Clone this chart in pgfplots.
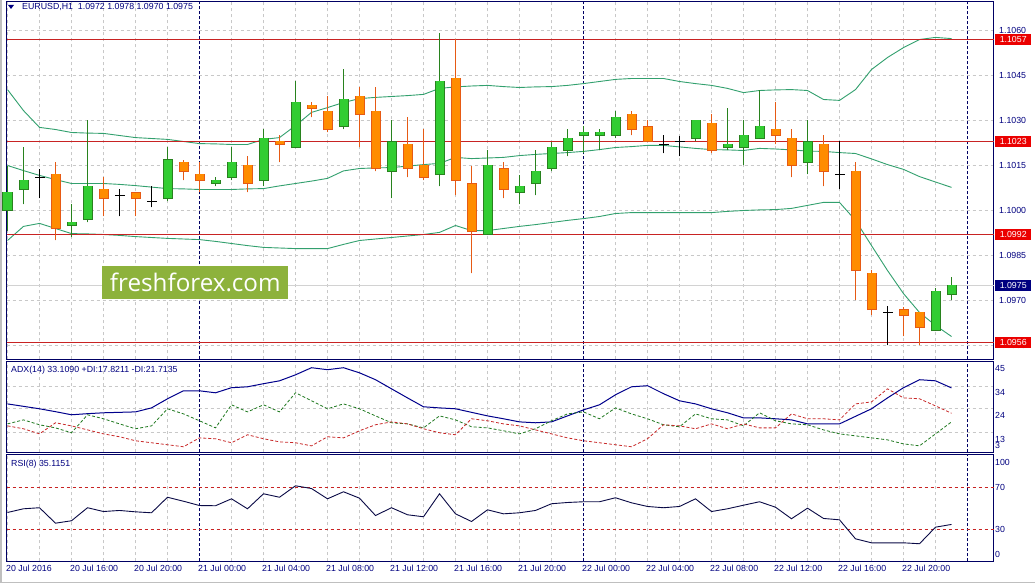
\documentclass[border=0pt]{standalone}
\usepackage{pgfplots}
\pgfplotsset{compat=1.18}
\usepackage{pgfplotstable}
\usepackage{fontspec}
\setmainfont{Liberation Sans}
\newfontfamily\wm{Open Sans}
\newcommand\lab{\fontsize{8.8bp}{10bp}\selectfont}
\definecolor{navy}{RGB}{0,0,128}
\definecolor{frame}{RGB}{0,0,100}
\definecolor{gfill}{RGB}{50,205,50}
\definecolor{gout}{RGB}{40,130,30}
\definecolor{ofill}{RGB}{255,140,0}
\definecolor{oout}{RGB}{230,90,20}
\definecolor{band}{RGB}{50,160,110}
\definecolor{lvl}{RGB}{200,35,35}
\definecolor{boxred}{RGB}{235,0,0}
\definecolor{gridc}{RGB}{200,200,200}
\definecolor{adxc}{RGB}{0,0,140}
\definecolor{pdi}{RGB}{30,120,30}
\definecolor{mdi}{RGB}{200,40,40}
\definecolor{rsic}{RGB}{10,10,70}
\definecolor{wmgreen}{RGB}{141,178,60}

\pgfplotstableread{
i O H L C
0 1.1000 1.1015 1.0993 1.1006
1 1.1007 1.1021 1.1002 1.1010
4 1.0995 1.1002 1.0991 1.0996
5 1.0997 1.1030 1.0996 1.1008
10 1.1004 1.1021 1.1003 1.1017
13 1.1009 1.1011 1.1008 1.1010
14 1.1011 1.1021 1.1010 1.1016
16 1.1010 1.1027 1.1008 1.1024
18 1.1021 1.1043 1.1021 1.1036
21 1.1028 1.1047 1.1027 1.1037
24 1.1013 1.1030 1.1004 1.1023
27 1.1012 1.1059 1.1008 1.1043
30 1.0992 1.1020 1.0992 1.1015
32 1.1006 1.1012 1.1002 1.1008
33 1.1009 1.1020 1.1005 1.1013
34 1.1014 1.1023 1.1013 1.1021
35 1.1020 1.1027 1.1018 1.1024
36 1.1025 1.1028 1.1019 1.1026
37 1.1025 1.1027 1.1020 1.1026
38 1.1025 1.1033 1.1024 1.1031
43 1.1024 1.1030 1.1023 1.1030
45 1.1021 1.1034 1.1020 1.1022
46 1.1021 1.1030 1.1015 1.1025
47 1.1024 1.1040 1.1024 1.1028
50 1.1016 1.1030 1.1012 1.1023
58 1.0960 1.0974 1.0960 1.0973
59 1.0972 1.0978 1.0970 1.0975
}\bull

\pgfplotstableread{
i O H L C
3 1.1012 1.1016 1.0990 1.0994
6 1.1007 1.1011 1.0998 1.1004
8 1.1006 1.1006 1.0998 1.1004
11 1.1016 1.1017 1.1010 1.1013
12 1.1012 1.1016 1.1006 1.1010
15 1.1015 1.1018 1.1006 1.1009
17 1.1023 1.1025 1.1016 1.1022
19 1.1035 1.1036 1.1031 1.1034
20 1.1033 1.1038 1.1026 1.1027
22 1.1038 1.1041 1.1021 1.1032
23 1.1033 1.1041 1.1013 1.1014
25 1.1022 1.1031 1.1011 1.1014
26 1.1015 1.1027 1.1010 1.1011
28 1.1044 1.1057 1.1005 1.1010
29 1.1009 1.1015 1.0979 1.0993
31 1.1014 1.1016 1.1004 1.1007
39 1.1032 1.1033 1.1025 1.1027
40 1.1028 1.1030 1.1023 1.1023
44 1.1029 1.1032 1.1019 1.1020
48 1.1027 1.1036 1.1022 1.1025
49 1.1024 1.1027 1.1011 1.1015
51 1.1022 1.1025 1.1008 1.1013
53 1.1013 1.1016 1.0970 1.0980
54 1.0979 1.0980 1.0965 1.0967
56 1.0967 1.0968 1.0958 1.0965
57 1.0966 1.0966 1.0955 1.0961
}\bear

\pgfplotstableread{
i O H L C
2 1.1011 1.1014 1.1004 1.1011
7 1.1005 1.1007 1.0998 1.1005
9 1.1003 1.1008 1.1001 1.1003
41 1.1022 1.1025 1.1019 1.1022
42 1.1023 1.1025 1.1018 1.1023
52 1.1012 1.1023 1.1007 1.1012
55 1.0966 1.0968 1.0955 1.0966
}\doji

\pgfplotstableread{
i up mid lo
0 1.10403 1.10150 1.09900
1 1.10333 1.10133 1.09947
2 1.10277 1.10117 1.09957
3 1.10270 1.10103 1.09940
4 1.10260 1.10090 1.09923
5 1.10258 1.10090 1.09922
6 1.10257 1.10090 1.09920
7 1.10250 1.10087 1.09917
8 1.10243 1.10083 1.09913
9 1.10240 1.10078 1.09910
10 1.10237 1.10073 1.09907
11 1.10230 1.10072 1.09905
12 1.10223 1.10070 1.09903
13 1.10222 1.10070 1.09897
14 1.10220 1.10070 1.09890
15 1.10220 1.10072 1.09883
16 1.10237 1.10073 1.09877
17 1.10243 1.10082 1.09875
18 1.10283 1.10090 1.09873
19 1.10327 1.10098 1.09873
20 1.10343 1.10107 1.09873
21 1.10360 1.10132 1.09887
22 1.10373 1.10140 1.09900
23 1.10377 1.10142 1.09905
24 1.10380 1.10143 1.09910
25 1.10383 1.10148 1.09915
26 1.10387 1.10153 1.09920
27 1.10407 1.10157 1.09927
28 1.10412 1.10177 1.09950
29 1.10415 1.10173 1.09933
30 1.10417 1.10175 1.09933
31 1.10413 1.10177 1.09940
32 1.10410 1.10183 1.09947
33 1.10412 1.10187 1.09953
34 1.10413 1.10190 1.09960
35 1.10417 1.10193 1.09967
36 1.10423 1.10197 1.09973
37 1.10430 1.10203 1.09980
38 1.10437 1.10210 1.09990
39 1.10440 1.10213 1.09993
40 1.10440 1.10217 1.09993
41 1.10440 1.10217 1.09993
42 1.10430 1.10212 1.09993
43 1.10423 1.10207 1.09993
44 1.10417 1.10203 1.09993
45 1.10407 1.10202 1.09997
46 1.10393 1.10200 1.10000
47 1.10400 1.10207 1.10002
48 1.10402 1.10205 1.10003
49 1.10403 1.10202 1.10007
50 1.10400 1.10198 1.10017
51 1.10370 1.10197 1.10027
52 1.10367 1.10193 1.10027
53 1.10403 1.10190 1.09967
54 1.10470 1.10172 1.09883
55 1.10510 1.10153 1.09800
56 1.10543 1.10137 1.09723
57 1.10570 1.10113 1.09660
58 1.10577 1.10095 1.09617
59 1.10573 1.10077 1.09580
}\bands

\pgfplotstableread{
i adx pdi mdi
0 25.9 16.9 16.0
1 24.8 18.7 14.7
2 23.7 16.5 12.4
3 22.4 15.1 17.4
4 21.0 12.9 16.0
5 21.5 21.0 14.2
6 21.9 19.2 12.4
7 22.1 16.9 11.1
8 22.3 14.7 9.3
9 24.1 16.0 8.4
10 28.2 23.7 7.5
11 31.8 21.4 6.6
12 31.8 18.3 10.6
13 30.9 15.1 10.2
14 33.2 25.5 8.4
15 33.6 22.3 12.0
16 35.0 25.5 10.2
17 36.3 22.3 8.8
18 39.0 30.9 8.4
19 42.2 27.3 7.0
20 41.3 23.7 11.1
21 42.2 25.9 10.6
22 39.9 23.7 13.8
23 36.8 20.5 16.5
24 32.7 17.4 17.8
25 28.6 16.9 16.9
26 24.6 15.1 14.7
27 24.1 20.5 12.9
28 23.7 18.7 12.0
29 22.1 15.6 19.2
30 20.5 15.1 18.3
31 19.2 13.8 16.9
32 17.8 12.4 16.0
33 17.4 14.7 14.2
34 17.8 18.3 12.4
35 20.5 21.4 10.6
36 23.2 22.3 9.3
37 25.5 19.2 8.4
38 30.0 24.1 7.5
39 33.6 21.4 6.6
40 34.1 19.2 10.2
41 30.5 16.5 16.5
42 27.3 15.6 16.0
43 25.9 21.4 14.7
44 23.7 19.2 16.9
45 21.9 18.7 14.7
46 19.6 16.0 16.9
47 19.6 21.9 15.1
48 19.2 18.3 15.1
49 18.7 16.9 21.4
50 16.9 16.5 19.2
51 16.9 14.2 19.2
52 16.9 12.4 18.7
53 20.3 11.5 25.9
54 23.7 10.6 26.8
55 28.6 9.7 32.7
56 33.2 7.9 28.6
57 36.8 7.0 28.2
58 36.3 12.4 25.0
59 33.1 17.8 21.7
}\adx

\pgfplotstableread{
i r
0 46.5
1 50.0
2 51.0
3 36.3
4 38.6
5 51.0
6 47.4
7 48.4
8 47.1
9 46.2
10 61.0
11 57.2
12 53.1
13 52.9
14 59.5
15 50.0
16 64.3
17 61.0
18 71.9
19 69.3
20 59.5
21 66.2
22 60.1
23 43.6
24 51.0
25 44.3
26 42.4
27 64.3
28 45.2
29 37.9
30 49.0
31 45.2
32 46.2
33 48.4
34 54.8
35 56.0
36 56.7
37 56.7
38 60.5
39 55.7
40 52.2
41 51.0
42 52.2
43 59.5
44 47.4
45 50.0
46 53.4
47 56.7
48 51.5
49 40.5
50 50.6
51 40.8
52 39.5
53 21.4
54 17.6
55 17.6
56 17.6
57 16.7
58 32.5
59 35.1
}\rsi

\pgfplotsset{
  panel/.style={
    scale only axis, width=987bp, anchor=south west,
    xmin=-0.0625, xmax=61.625, clip=false,
    axis line style={draw=frame, line width=1bp},
    tick style={draw=none},
    xtick={0,2,4,6,8,10,14,16,18,20,22,24,26,28,30,32,34,38,40,42,44,46,48,50,52,54,56,58},
    xticklabels={},
    yticklabel pos=right,
    scaled y ticks=false,
    yticklabel style={font=\lab, text=navy, anchor=west, inner sep=0pt},
    /pgf/number format/assume math mode=true,
    major grid style={draw=gridc, dash pattern=on 3bp off 3bp, line width=0.8bp},
    extra x ticks={12,36,60}, extra x tick labels={},
    extra x tick style={grid=major, major grid style={draw=frame, dash pattern=on 3bp off 2bp, line width=0.8bp}},
  },
  lvlline/.style={color=lvl, solid, mark=none, line width=1bp},
  wick/.style={forget plot, only marks, mark=*, mark size=0pt, mark options={draw=none, fill=none}, error bars/.cd, y dir=plus, y explicit, error mark=none, error bar style={draw=#1, line width=1bp}},
  body/.style 2 args={forget plot, only marks, mark=*, mark size=0pt, mark options={draw=none, fill=none}, error bars/.cd, y dir=plus, y explicit, error mark=none, error bar style={draw=#1, line width=#2}},
}
\tikzset{pbox/.style={anchor=west, xshift=1.5bp, minimum width=36bp, minimum height=10.5bp, inner sep=0pt, font=\lab, text=white, fill=#1}}

\begin{document}
\begin{tikzpicture}
\useasboundingbox (0,0) rectangle (1035bp,583bp);
\fill[white] (0,0) rectangle (1035bp,583bp);

% ---------------- main price panel ----------------
\begin{axis}[panel, at={(6.5bp,223.5bp)}, height=358bp,
  ymin=1.0950333, ymax=1.1069667,
  ytick={1.0955,1.0970,1.0985,1.1000,1.1015,1.1030,1.1045,1.1060},
  yticklabel style={xshift=5.5bp, /pgf/number format/fixed, /pgf/number format/fixed zerofill, /pgf/number format/precision=4},
  grid=major]
\addplot[color=gray!35, mark=none, line width=0.8bp] coordinates {(-0.0625,1.0975) (61.625,1.0975)};
\addplot[color=band, mark=none, line width=0.9bp] table[x=i, y=up] {\bands};
\addplot[color=band, mark=none, line width=0.9bp] table[x=i, y=mid] {\bands};
\addplot[color=band, mark=none, line width=0.9bp] table[x=i, y=lo] {\bands};
\addplot[lvlline] coordinates {(-0.0625,1.1057) (61.625,1.1057)};
\addplot[lvlline] coordinates {(-0.0625,1.1023) (61.625,1.1023)};
\addplot[lvlline] coordinates {(-0.0625,1.0992) (61.625,1.0992)};
\addplot[lvlline] coordinates {(-0.0625,1.0956) (61.625,1.0956)};
% bull candles
\addplot[wick=gout] table[x=i, y=L, y error plus expr={\thisrow{H}-\thisrow{L}}] {\bull};
\addplot[body={gout}{10bp}] table[x=i, y expr={\thisrow{O}-0.00002}, y error plus expr={\thisrow{C}-\thisrow{O}+0.00004}] {\bull};
\addplot[body={gfill}{8bp}] table[x=i, y=O, y error plus expr={\thisrow{C}-\thisrow{O}}] {\bull};
% bear candles
\addplot[wick=oout] table[x=i, y=L, y error plus expr={\thisrow{H}-\thisrow{L}}] {\bear};
\addplot[body={oout}{10bp}] table[x=i, y expr={\thisrow{C}-0.00002}, y error plus expr={\thisrow{O}-\thisrow{C}+0.00004}] {\bear};
\addplot[body={ofill}{8bp}] table[x=i, y=C, y error plus expr={\thisrow{O}-\thisrow{C}}] {\bear};
% doji
\addplot[wick=black] table[x=i, y=L, y error plus expr={\thisrow{H}-\thisrow{L}}] {\doji};
\addplot[only marks, mark=-, mark size=5bp, black, mark options={line width=1bp}] table[x=i, y=O] {\doji};
% price boxes
\node[pbox=boxred] at (axis cs:61.625,1.1057) {1.1057};
\node[pbox=boxred] at (axis cs:61.625,1.1023) {1.1023};
\node[pbox=boxred] at (axis cs:61.625,1.0992) {1.0992};
\node[pbox=boxred] at (axis cs:61.625,1.0956) {1.0956};
\node[pbox=navy] at (axis cs:61.625,1.0975) {1.0975};
\end{axis}

% ---------------- ADX panel ----------------
\begin{axis}[panel, at={(6.5bp,130.5bp)}, height=91bp,
  ymin=4.01, ymax=45, ytick={13,24,34,45},
  yticklabel style={xshift=1.5bp, yshift=-7bp},
  grid=major]
\addplot[color=adxc, mark=none, line width=1bp] table[x=i, y=adx] {\adx};
\addplot[color=pdi, mark=none, line width=0.8bp, dash pattern=on 3bp off 2bp] table[x=i, y=pdi] {\adx};
\addplot[color=mdi, mark=none, line width=0.8bp, dash pattern=on 3bp off 2bp] table[x=i, y=mdi] {\adx};
\node[anchor=west, inner sep=0pt, font=\lab, text=navy, xshift=1.5bp] at (axis cs:61.625,7.3) {3};
\node[anchor=west, inner sep=0pt, font=\lab, text=navy] at (axis cs:0.22,41.2) {ADX(14) 33.1090 +DI:17.8211 -DI:21.7135};
\end{axis}

% ---------------- RSI panel ----------------
\begin{axis}[panel, at={(6.5bp,21.5bp)}, height=107bp,
  ymin=-0.2, ymax=101.7, ytick={30,70},
  yticklabel style={xshift=1.5bp},
  xmajorgrids=true, ymajorgrids=false,
  xticklabels={20 Jul 2016,,20 Jul 16:00,,20 Jul 20:00,,,21 Jul 04:00,,21 Jul 08:00,,21 Jul 12:00,,21 Jul 16:00,,21 Jul 20:00,,,22 Jul 04:00,,22 Jul 08:00,,22 Jul 12:00,,22 Jul 16:00,,22 Jul 20:00,},
  extra x tick labels={21 Jul 00:00,22 Jul 00:00,},
  xticklabel style={font=\lab, text=navy, anchor=north west, inner sep=0pt, yshift=-3.5bp, xshift=-1.5bp}]
\addplot[lvlline, line width=0.8bp, dash pattern=on 3bp off 3bp] coordinates {(-0.0625,70) (61.625,70)};
\addplot[lvlline, line width=0.8bp, dash pattern=on 3bp off 3bp] coordinates {(-0.0625,30) (61.625,30)};
\addplot[color=rsic, mark=none, line width=0.9bp] table[x=i, y=r] {\rsi};
\node[anchor=west, inner sep=0pt, font=\lab, text=navy, xshift=1.5bp] at (axis cs:61.625,94.1) {100};
\node[anchor=west, inner sep=0pt, font=\lab, text=navy, xshift=1.5bp] at (axis cs:61.625,6.5) {0};
\node[anchor=west, inner sep=0pt, font=\lab, text=navy] at (axis cs:0.22,92.3) {RSI(8) 35.1151};
\end{axis}

% header
\fill[navy] (8bp,578bp) -- (14bp,578bp) -- (11bp,574bp) -- cycle;
\node[anchor=west, inner sep=0pt, font=\lab, text=navy] at (22bp,575.7bp) {EURUSD,H1\ \ 1.0972 1.0978 1.0970 1.0975};
% watermark
\node[fill=wmgreen, text=white, minimum width=186bp, minimum height=33.3bp, inner sep=0pt, font=\wm\fontsize{24.2bp}{26bp}\selectfont] at (195.3bp,300.3bp) {freshforex.com};
\draw[gray!50, line width=1.5bp] (0.75bp,0) -- (0.75bp,583bp);
\draw[gray!50, line width=1.5bp] (0,0.75bp) -- (1035bp,0.75bp);
\end{tikzpicture}
\end{document}
